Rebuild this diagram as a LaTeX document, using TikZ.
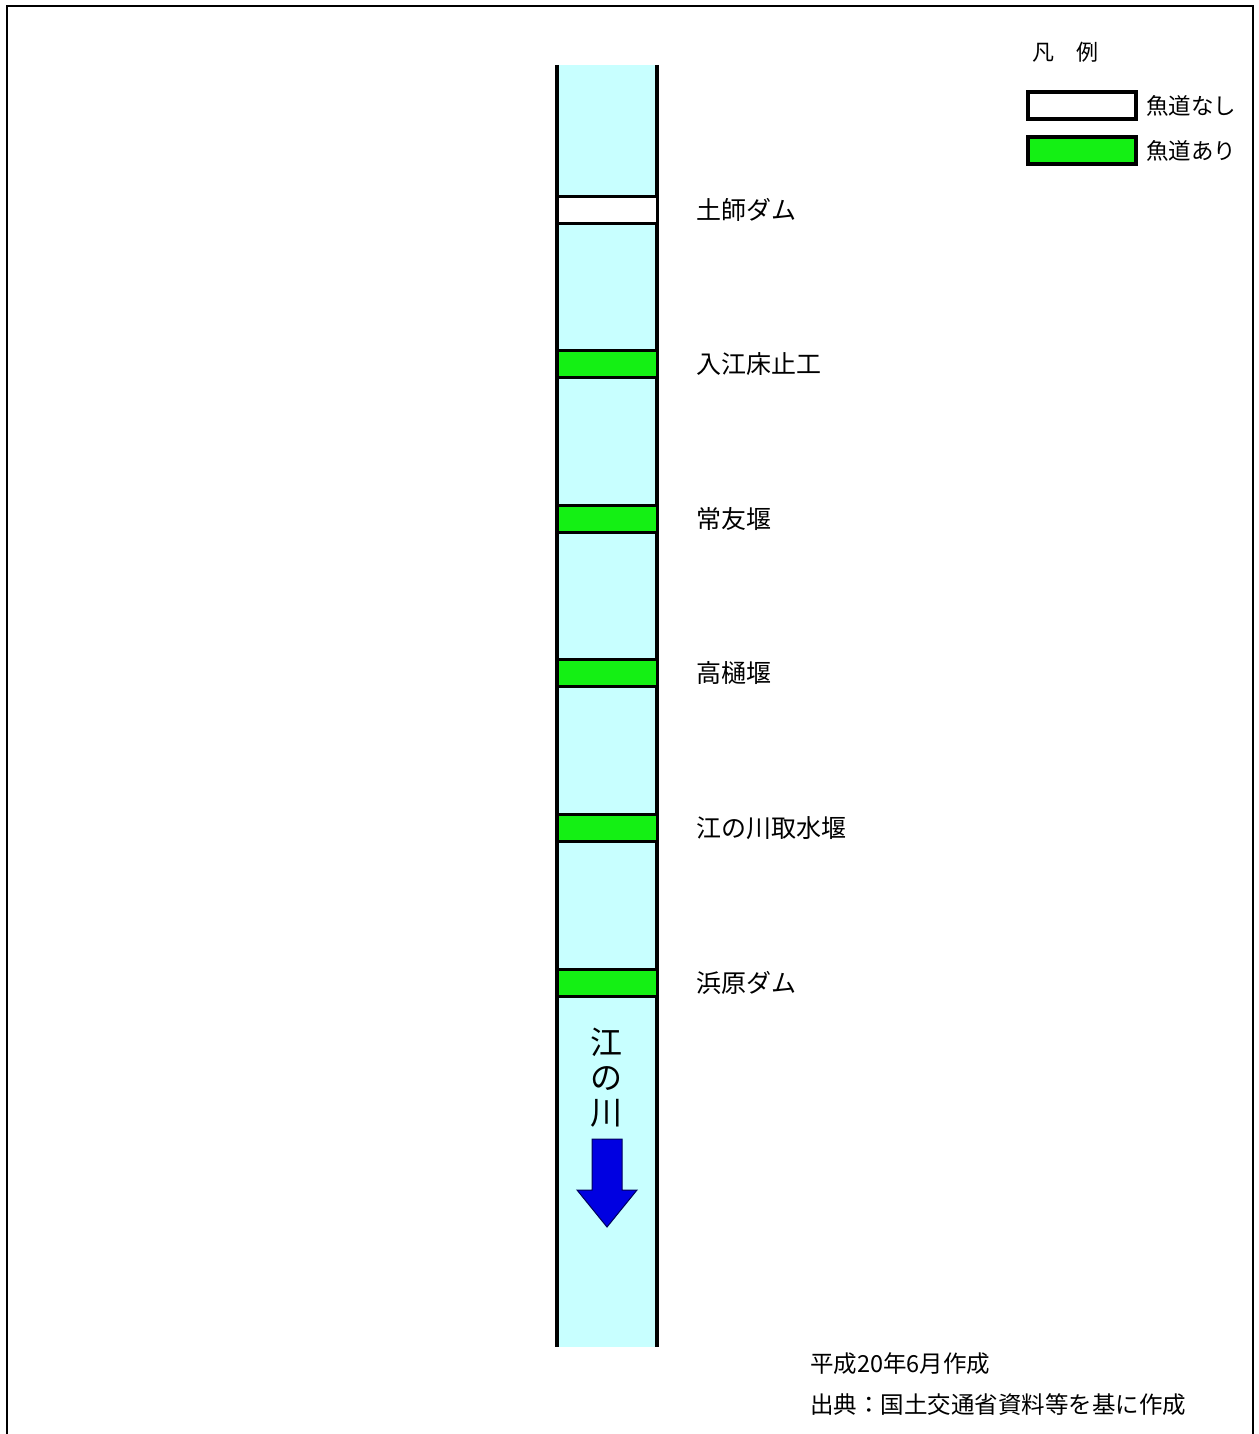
\documentclass[tikz,border=0pt]{standalone}
\usepackage{fontspec}
\setmainfont{Noto Sans CJK JP}
\usetikzlibrary{positioning}
\definecolor{river}{RGB}{200,255,255}
\definecolor{fishway}{RGB}{20,240,20}
\definecolor{flow}{RGB}{0,0,225}

\begin{document}
\begin{tikzpicture}[x=1pt, y=-1pt,
  dam/.style={draw=black, line width=3pt, minimum width=100pt, minimum height=27pt, inner sep=0pt},
  noway/.style={dam, fill=white},
  fishway/.style={dam, fill=fishway},
  damname/.style={anchor=west, inner sep=0pt, font=\fontsize{25}{25}\selectfont},
  key/.style={draw=black, line width=4pt, minimum width=108pt, minimum height=27pt, inner sep=0pt},
  wall/.style={line width=3.5pt},
  note/.style={anchor=west, inner sep=0pt, font=\fontsize{23.5}{24}\selectfont}
]
\useasboundingbox (0,0) rectangle (1258,1434);

\draw[line width=2.5pt] (7,1434) -- (7,6) -- (1253,6) -- (1253,1434);

\fill[river] (557,65) rectangle (657,1347);
\draw[wall] (557,65) -- (557,1347);
\draw[wall] (657,65) -- (657,1347);

\node[noway] (hashi) at (607,210) {};
\node[fishway] (irie) at (607,364) {};
\node[fishway] (tsunetomo) at (607,519) {};
\node[fishway] (takahi) at (607,673) {};
\node[fishway] (gonokawa) at (607,828) {};
\node[fishway] (hamahara) at (607,983) {};

\node[damname, right=38pt of hashi] (hashiname) {土師ダム};
\node[damname, right=38pt of irie] (iriename) {入江床止工};
\node[damname, right=38pt of tsunetomo] (tsunetomoname) {常友堰};
\node[damname, right=38pt of takahi] (takahiname) {高樋堰};
\node[damname, right=38pt of gonokawa] (gonokawaname) {江の川取水堰};
\node[damname, right=38pt of hamahara] (hamaharaname) {浜原ダム};

\node[align=center, inner sep=0pt, font=\fontsize{32}{35}\selectfont] (rivername) at (606,1078) {江\\の\\川};
\fill[flow, draw=black!60!flow, line width=1pt] (592,1139) -- (622,1139) -- (622,1190) -- (637,1190)
  -- (607,1227) -- (577,1190) -- (592,1190) -- cycle;

\node[inner sep=0pt, font=\fontsize{22}{22}\selectfont] (legend) at (1065,52) {凡　例};
\node[key, fill=white] (keynone) at (1082,106) {};
\node[key, fill=fishway] (keyfish) at (1082,151) {};
\node[note, font=\fontsize{22.5}{23}\selectfont, right=8pt of keynone] {魚道なし};
\node[note, font=\fontsize{22.5}{23}\selectfont, right=8pt of keyfish] {魚道あり};

\node[note] (made) at (810,1364) {平成20年6月作成};
\node[note] (source) at (810,1405) {出典：国土交通省資料等を基に作成};
\end{tikzpicture}
\end{document}
